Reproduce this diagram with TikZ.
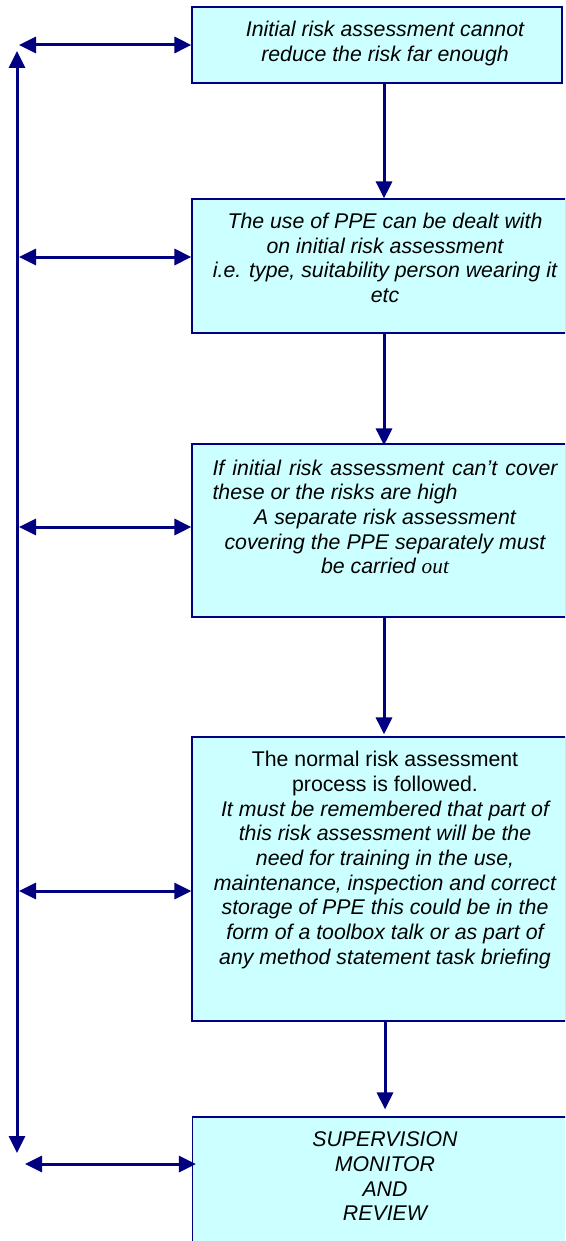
\documentclass[tikz,border=0pt]{standalone}
\usepackage{fontspec}
\setmainfont{Liberation Sans}
\newfontfamily\timesfam{Liberation Serif}
\usetikzlibrary{arrows.meta}
\definecolor{navyline}{RGB}{0,0,128}
\definecolor{boxfill}{RGB}{204,255,255}
\tikzset{
  box/.style={draw=navyline, fill=boxfill, line width=1.2pt, rectangle, inner sep=0pt},
  arr/.style={draw=navyline, line width=3pt, -{Triangle[length=17pt,width=16pt]}},
  darr/.style={draw=navyline, line width=3pt, {Triangle[length=17pt,width=16pt]}-{Triangle[length=17pt,width=16pt]}},
  txt/.style={align=center, inner sep=0pt, anchor=base, font=\fontsize{21.3}{24.7}\selectfont\itshape}
}
\begin{document}
\begin{tikzpicture}[x=1pt,y=-1pt]
\useasboundingbox (0,0) rectangle (565,1241);
\clip (0,0) rectangle (565,1241);
\fill[white] (0,0) rectangle (565,1241);
% boxes
\node[box, minimum width=370pt, minimum height=76pt] (b1) at (377,45) {};
\node[box, minimum width=374pt, minimum height=134pt] (b2) at (379,266) {};
\node[box, minimum width=374pt, minimum height=173pt] (b3) at (379,530.5) {};
\node[box, minimum width=374pt, minimum height=284pt] (b4) at (379,879) {};
\node[box, minimum width=374pt, minimum height=140pt] (b5) at (379.5,1187) {};
% texts (anchored at the baseline of their last line)
\node[txt] (t1) at (385,61.7) {Initial risk assessment cannot\\reduce the risk far enough};
\node[txt] (t2) at (385,302.4) {The use of PPE can be dealt with\\on initial risk assessment\\i.e. type, suitability person wearing it\\etc};
\node[txt] (t3) at (385,573.8) {\makebox[345pt][s]{If initial risk assessment can’t cover}\\\makebox[345pt][l]{these or the risks are high}\\A separate risk assessment\\covering the PPE separately must\\be carried {\timesfam\itshape out}};
\node[txt] (t4) at (385,964.3) {{\upshape The normal risk assessment}\\{\upshape process is followed.}\\It must be remembered that part of\\this risk assessment will be the\\need for training in the use,\\maintenance, inspection and correct\\storage of PPE this could be in the\\form of a toolbox talk or as part of\\any method statement task briefing};
\node[txt] (t5) at (385,1220.8) {SUPERVISION\\MONITOR\\AND\\REVIEW};
% axis coordinates
\coordinate (ax) at (384,0);
\coordinate (ax5) at (385,0);
\coordinate (L1) at (19,45);
\coordinate (L2) at (19,257);
\coordinate (L3) at (19,527);
\coordinate (L4) at (19,891);
\coordinate (L5) at (25,1164);
\coordinate (Vt) at (17,51);
\coordinate (Vb) at (17,1153);
% vertical flow arrows
\draw[arr] (b1.south -| ax) -- (b2.north -| ax);
\draw[arr] (b2.south -| ax) -- ([yshift=-2pt]b3.north -| ax);
\draw[arr] (b3.south -| ax) -- ([yshift=2pt]b4.north -| ax);
\draw[arr, shorten >=7pt] (b4.south -| ax5) -- (b5.north -| ax5);
% side arrows
\draw[darr] (L1) -- (b1.west |- L1);
\draw[darr] (L2) -- (b2.west |- L2);
\draw[darr] (L3) -- (b3.west |- L3);
\draw[darr] (L4) -- (b4.west |- L4);
\draw[darr] (L5) -- ([xshift=4pt]b5.west |- L5);
% long vertical return line
\draw[darr] (Vt) -- (Vb);
\end{tikzpicture}
\end{document}
